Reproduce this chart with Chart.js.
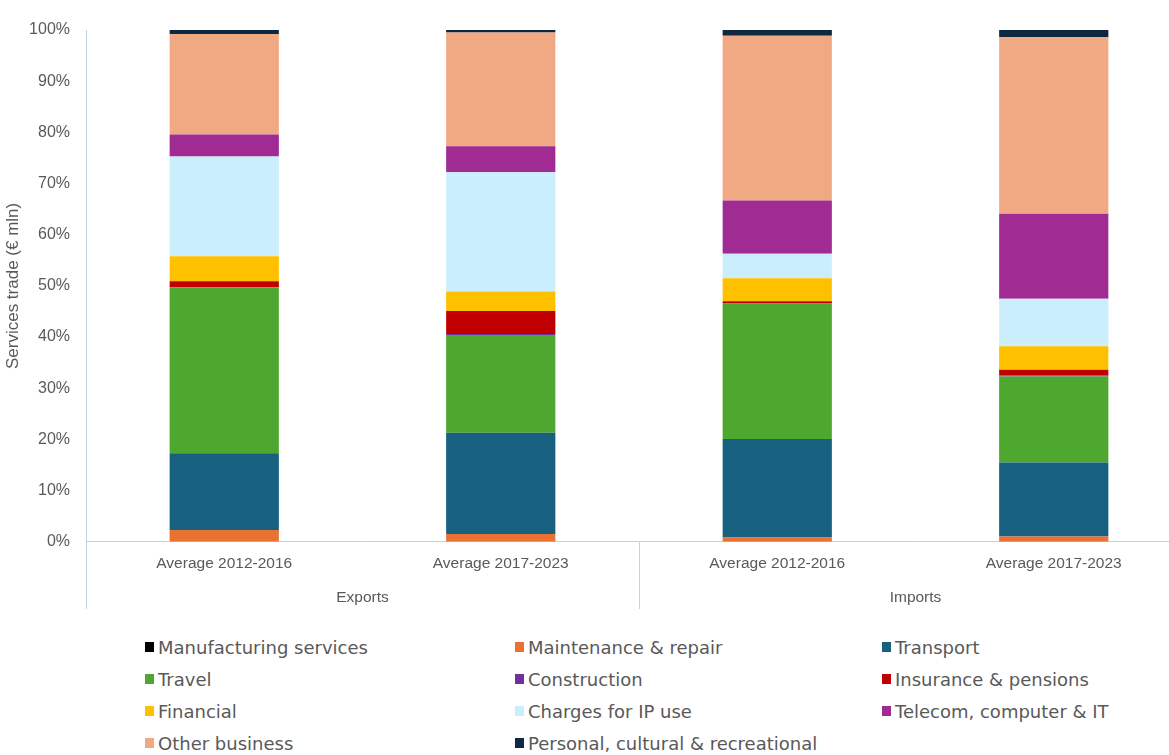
<!DOCTYPE html>
<html>
<head>
<meta charset="utf-8">
<script src="https://cdn.jsdelivr.net/npm/chart.js@4.4.1/dist/chart.umd.min.js"></script>
<style>
  html, body { margin: 0; padding: 0; background: #fff; width: 1169px; height: 755px; overflow: hidden; }
  #wrap { position: absolute; left: 0; top: 0; width: 1200px; height: 611px; }
  #legend { position: absolute; left: 143px; top: 631px; display: grid;
            grid-template-columns: 370px 367px 300px; row-gap: 0; }
  .item { height: 32px; display: flex; align-items: center;
          font-family: 'DejaVu Sans', sans-serif; font-size: 18px; color: #595959; white-space: nowrap; }
  .box { width: 9px; height: 10px; margin-right: 4px; margin-left: 2px; flex: none; }
</style>
</head>
<body>
<div id="wrap"><canvas id="c"></canvas></div>
<div id="legend"></div>
<script>
// Share of each service type in total trade, by period (percent)
const categories = ['Average 2012-2016', 'Average 2017-2023', 'Average 2012-2016', 'Average 2017-2023'];
const groups = ['Exports', 'Imports'];
const yTicks = [0, 10, 20, 30, 40, 50, 60, 70, 80, 90, 100];

const manufacturing = [0, 0, 0, 0];
const maintenance   = [2.3, 1.5, 0.85, 1.05];
const transport     = [15.0, 19.8, 19.25, 14.45];
const travel        = [32.4, 19.1, 26.4, 16.8];
const construction  = [0.1, 0.2, 0.1, 0.2];
const insurance     = [1.1, 4.5, 0.4, 1.1];
const financial     = [4.9, 3.8, 4.5, 4.6];
const ipCharges     = [19.5, 23.3, 4.8, 9.3];
const telecom       = [4.3, 5.1, 10.4, 16.6];
const otherBusiness = [19.6, 22.2, 32.2, 34.5];
const personal      = [0.8, 0.5, 1.1, 1.4];

const series = [
  ['Manufacturing services', manufacturing, '#000000'],
  ['Maintenance & repair', maintenance, '#E97132'],
  ['Transport', transport, '#17607F'],
  ['Travel', travel, '#4EA72E'],
  ['Construction', construction, '#7030A0'],
  ['Insurance & pensions', insurance, '#C00000'],
  ['Financial', financial, '#FFC000'],
  ['Charges for IP use', ipCharges, '#CAEEFB'],
  ['Telecom, computer & IT', telecom, '#A02B93'],
  ['Other business', otherBusiness, '#F1A983'],
  ['Personal, cultural & recreational', personal, '#0E2841']
];

const axisColor = '#C3D3DE';
const textColor = '#595959';
const catFont = { family: "'Liberation Sans', Arial, sans-serif", size: 15.5 };

// Separator lines between the two groups of the category axis
const groupLines = {
  id: 'groupLines',
  afterDraw(chart) {
    const x = chart.scales.x, x2 = chart.scales.x2, ctx = chart.ctx;
    const top = chart.chartArea.bottom, bottom = x2.bottom;
    ctx.save();
    ctx.strokeStyle = axisColor;
    ctx.lineWidth = 1;
    [x.left, (x.left + x.right) / 2, x.right].forEach(px => {
      const p = Math.round(px) + 0.5;
      ctx.beginPath(); ctx.moveTo(p, top); ctx.lineTo(p, bottom); ctx.stroke();
    });
    ctx.restore();
  }
};

const chart = new Chart(document.getElementById('c'), {
  type: 'bar',
  data: {
    labels: categories,
    datasets: series.map(([label, data, color]) => ({
      label, data, backgroundColor: color, borderWidth: 0,
      barPercentage: 0.395, categoryPercentage: 1.0
    }))
  },
  options: {
    responsive: true,
    maintainAspectRatio: false,
    animation: false,
    layout: { padding: { top: 30, right: 8, bottom: 2, left: 0 } },
    plugins: { legend: { display: false }, tooltip: { enabled: false } },
    scales: {
      x: {
        stacked: true,
        grid: { display: false, drawTicks: false },
        border: { display: true, color: axisColor, width: 1 },
        ticks: { color: textColor, padding: 13, maxRotation: 0, font: catFont }
      },
      x2: {
        type: 'category',
        labels: groups,
        position: 'bottom',
        offset: true,
        grid: { display: false, drawTicks: false },
        border: { display: false },
        ticks: { color: textColor, padding: 2, font: catFont }
      },
      y: {
        stacked: true,
        min: 0, max: 100,
        afterBuildTicks(scale) { scale.ticks = yTicks.map(v => ({ value: v })); },
        afterFit(scale) { scale.width = 86; },
        grid: { display: false, drawTicks: false },
        border: { display: true, color: axisColor, width: 1 },
        ticks: { color: textColor, padding: 16, callback: v => v + '%',
                 font: { family: "'Liberation Sans', Arial, sans-serif", size: 16 } },
        title: { display: true, text: 'Services trade (€ mln)', color: textColor,
                 padding: { top: 3, bottom: 0 },
                 font: { family: "'Liberation Sans', Arial, sans-serif", size: 17 } }
      }
    }
  },
  plugins: [groupLines]
});

// Legend laid out in three columns
const legend = document.getElementById('legend');
chart.data.datasets.forEach(ds => {
  const item = document.createElement('div');
  item.className = 'item';
  const box = document.createElement('span');
  box.className = 'box';
  box.style.background = ds.backgroundColor;
  item.appendChild(box);
  item.appendChild(document.createTextNode(ds.label));
  legend.appendChild(item);
});
</script>
</body>
</html>
